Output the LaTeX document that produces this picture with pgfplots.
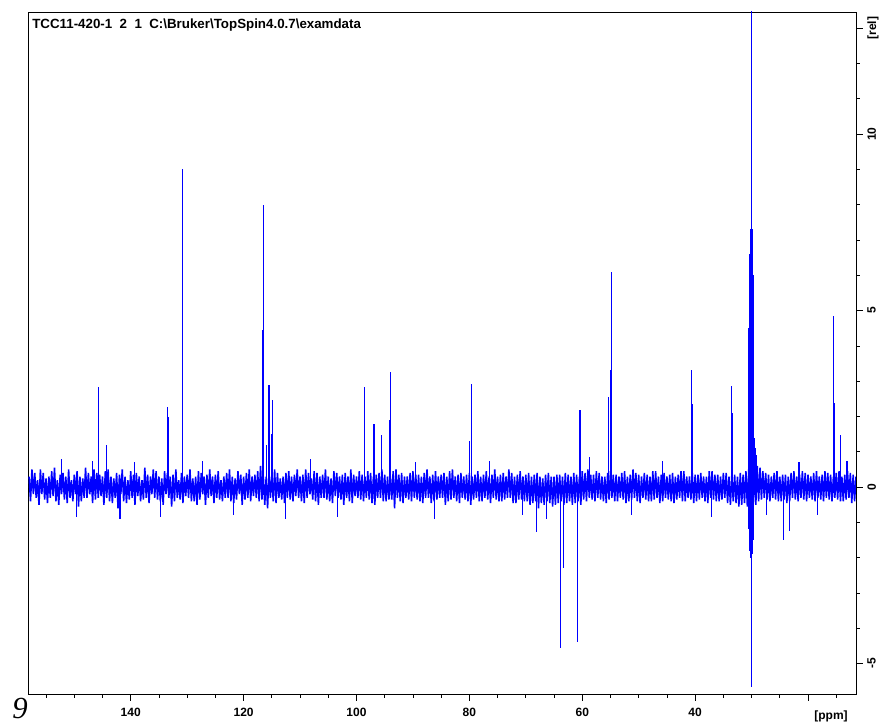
\documentclass[border=0pt]{standalone}
\usepackage{pgfplots}
\pgfplotsset{compat=1.18}
\usepackage{fontspec}
\newfontfamily\lsans{Liberation Sans}
\newfontfamily\lserif{Liberation Serif}

\begin{document}
\begin{tikzpicture}
\useasboundingbox (-21pt,-22.5pt) rectangle (640.5pt,520.5pt);
\begin{axis}[
  at={(0,0)}, anchor=south west,
  scale only axis, width=621pt, height=511.5pt,
  x dir=reverse, xmin=11.5, xmax=158.2,
  ymin=-5.86, ymax=13.46,
  axis line style={line width=.6pt},
  tick align=outside,
  xtick pos=left, ytick pos=right, yticklabel pos=right,
  xtick={20,40,...,140}, xticklabels={,40,60,80,100,120,140},
  minor xtick={15,20,...,155},
  ytick={-5,0,5,10},
  minor ytick={-5,-4,...,13},
  extra y ticks={13}, extra y tick labels={[rel]},
  major tick length=5pt, minor tick length=3pt,
  tick style={black, line width=.6pt},
  ticklabel style={font=\lsans\bfseries\fontsize{9}{9}\selectfont},
  xticklabel style={yshift=-2pt},
  /pgf/number format/assume math mode=true,
  yticklabel style={rotate=90, anchor=north},
]
% baseline noise, read as a dense band of about +-0.4
\addplot[blue, line width=1.15pt, line join=bevel] coordinates {
(158,.3)(157.75,-.4)(157.5,.5)(157.25,-.2)
(157,.4)(156.75,-.3)(156.5,.2)(156.25,-.5)
(156,.5)(155.75,-.2)(155.5,.4)(155.25,-.35)
(155,.25)(154.75,-.45)(154.5,.3)(154.25,-.3)
(154,.45)(153.75,-.25)(153.5,.55)(153.25,-.4)
(153,.2)(152.75,-.5)(152.5,.35)(152.25,-.2)
(152,.4)(151.75,-.35)(151.5,.3)(151.25,-.45)
(151,.5)(150.75,-.3)(150.5,.2)(150.25,-.4)
(150,.35)(149.75,-.2)(149.5,.45)(149.25,-.55)
(149,.3)(148.75,-.4)(148.5,.25)(148.25,-.3)
(148,.55)(147.75,-.3)(147.5,.4)(147.25,-.2)
(147,.3)(146.75,-.45)(146.5,.5)(146.25,-.35)
(146,.4)(145.75,-.3)(145.5,.35)(145.25,-.25)
(145,.3)(144.75,-.5)(144.5,.45)(144.25,-.3)
(144,.5)(143.75,-.4)(143.5,.3)(143.25,-.45)
(143,.25)(142.75,-.3)(142.5,.4)(142.25,-.6)
(142,.35)(141.75,-.2)(141.5,.5)(141.25,-.4)
(141,.3)(140.75,-.45)(140.5,.2)(140.25,-.35)
(140,.45)(139.75,-.3)(139.5,.35)(139.25,-.5)
(139,.4)(138.75,-.25)(138.5,.3)(138.25,-.4)
(138,.2)(137.75,-.35)(137.5,.55)(137.25,-.3)
(137,.35)(136.75,-.45)(136.5,.3)(136.25,-.2)
(136,.5)(135.75,-.3)(135.5,.45)(135.25,-.35)
(135,.3)(134.75,-.4)(134.5,.25)(134.25,-.5)
(134,.45)(133.75,-.2)(133.5,.4)(133.25,-.3)
(133,.3)(132.75,-.55)(132.5,.35)(132.25,-.4)
(132,.5)(131.75,-.3)(131.5,.2)(131.25,-.35)
(131,.4)(130.75,-.45)(130.5,.3)(130.25,-.25)
(130,.35)(129.75,-.3)(129.5,.5)(129.25,-.4)
(129,.25)(128.75,-.4)(128.5,.3)(128.25,-.5)
(128,.45)(127.75,-.35)(127.5,.4)(127.25,-.2)
(127,.3)(126.75,-.5)(126.5,.35)(126.25,-.3)
(126,.5)(125.75,-.25)(125.5,.3)(125.25,-.45)
(125,.35)(124.75,-.3)(124.5,.45)(124.25,-.35)
(124,.2)(123.75,-.4)(123.5,.3)(123.25,-.3)
(123,.4)(122.75,-.3)(122.5,.5)(122.25,-.4)
(122,.3)(121.75,-.45)(121.5,.25)(121.25,-.35)
(121,.45)(120.75,-.2)(120.5,.35)(120.25,-.5)
(120,.3)(119.75,-.35)(119.5,.4)(119.25,-.3)
(119,.5)(118.75,-.4)(118.5,.3)(118.25,-.25)
(118,.35)(117.75,-.3)(117.5,.45)(117.25,-.4)
(117,.6)(116.75,-.35)(116.5,.3)(116.25,-.5)
(116,.3)(115.75,-.6)(115.5,.4)(115.25,-.3)
(115,.35)(114.75,-.4)(114.5,.5)(114.25,-.45)
(114,.4)(113.75,-.3)(113.5,.25)(113.25,-.35)
(113,.3)(112.75,-.45)(112.5,.4)(112.25,-.3)
(112,.45)(111.75,-.35)(111.5,.3)(111.25,-.4)
(111,.35)(110.75,-.25)(110.5,.5)(110.25,-.3)
(110,.3)(109.75,-.4)(109.5,.35)(109.25,-.45)
(109,.5)(108.75,-.3)(108.5,.4)(108.25,-.2)
(108,.25)(107.75,-.35)(107.5,.45)(107.25,-.4)
(107,.4)(106.75,-.5)(106.5,.3)(106.25,-.3)
(106,.35)(105.75,-.3)(105.5,.5)(105.25,-.35)
(105,.3)(104.75,-.4)(104.5,.25)(104.25,-.45)
(104,.45)(103.75,-.25)(103.5,.4)(103.25,-.3)
(103,.3)(102.75,-.35)(102.5,.35)(102.25,-.5)
(102,.4)(101.75,-.3)(101.5,.3)(101.25,-.4)
(101,.5)(100.75,-.45)(100.5,.35)(100.25,-.25)
(100,.3)(99.75,-.3)(99.5,.45)(99.25,-.35)
(99,.35)(98.75,-.4)(98.5,.3)(98.25,-.3)
(98,.45)(97.75,-.35)(97.5,.4)(97.25,-.45)
(97,.3)(96.75,-.5)(96.5,.35)(96.25,-.3)
(96,.4)(95.75,-.3)(95.5,.5)(95.25,-.4)
(95,.35)(94.75,-.4)(94.5,.3)(94.25,-.35)
(94,.3)(93.75,-.35)(93.5,.45)(93.25,-.6)
(93,.5)(92.75,-.3)(92.5,.35)(92.25,-.4)
(92,.4)(91.75,-.45)(91.5,.3)(91.25,-.3)
(91,.3)(90.75,-.35)(90.5,.4)(90.25,-.4)
(90,.45)(89.75,-.3)(89.5,.35)(89.25,-.35)
(89,.35)(88.75,-.4)(88.5,.3)(88.25,-.45)
(88,.4)(87.75,-.3)(87.5,.5)(87.25,-.3)
(87,.3)(86.75,-.45)(86.5,.35)(86.25,-.4)
(86,.45)(85.75,-.35)(85.5,.3)(85.25,-.3)
(85,.35)(84.75,-.3)(84.5,.4)(84.25,-.5)
(84,.3)(83.75,-.4)(83.5,.45)(83.25,-.35)
(83,.5)(82.75,-.3)(82.5,.3)(82.25,-.4)
(82,.35)(81.75,-.45)(81.5,.4)(81.25,-.3)
(81,.3)(80.75,-.35)(80.5,.35)(80.25,-.4)
(80,.4)(79.75,-.5)(79.5,.3)(79.25,-.35)
(79,.35)(78.75,-.3)(78.5,.45)(78.25,-.4)
(78,.3)(77.75,-.4)(77.5,.35)(77.25,-.3)
(77,.45)(76.75,-.35)(76.5,.3)(76.25,-.45)
(76,.35)(75.75,-.3)(75.5,.5)(75.25,-.35)
(75,.3)(74.75,-.4)(74.5,.35)(74.25,-.4)
(74,.4)(73.75,-.35)(73.5,.3)(73.25,-.3)
(73,.5)(72.75,-.3)(72.5,.4)(72.25,-.45)
(72,.3)(71.75,-.45)(71.5,.35)(71.25,-.35)
(71,.45)(70.75,-.35)(70.5,.3)(70.25,-.4)
(70,.35)(69.75,-.4)(69.5,.4)(69.25,-.5)
(69,.3)(68.75,-.45)(68.5,.35)(68.25,-.4)
(68,.4)(67.75,-.6)(67.5,.3)(67.25,-.45)
(67,.25)(66.75,-.5)(66.5,.35)(66.25,-.4)
(66,.4)(65.75,-.45)(65.5,.3)(65.25,-.55)
(65,.3)(64.75,-.5)(64.5,.35)(64.25,-.45)
(64,.35)(63.75,-.4)(63.5,.3)(63.25,-.5)
(63,.4)(62.75,-.45)(62.5,.35)(62.25,-.4)
(62,.3)(61.75,-.5)(61.5,.4)(61.25,-.45)
(61,.35)(60.75,-.4)(60.5,.3)(60.25,-.5)
(60,.45)(59.75,-.35)(59.5,.4)(59.25,-.4)
(59,.5)(58.75,-.3)(58.5,.35)(58.25,-.35)
(58,.35)(57.75,-.4)(57.5,.45)(57.25,-.3)
(57,.4)(56.75,-.35)(56.5,.3)(56.25,-.4)
(56,.3)(55.75,-.45)(55.5,.4)(55.25,-.35)
(55,.45)(54.75,-.3)(54.5,.35)(54.25,-.4)
(54,.35)(53.75,-.4)(53.5,.3)(53.25,-.3)
(53,.4)(52.75,-.35)(52.5,.45)(52.25,-.45)
(52,.3)(51.75,-.4)(51.5,.35)(51.25,-.35)
(51,.5)(50.75,-.3)(50.5,.4)(50.25,-.4)
(50,.35)(49.75,-.45)(49.5,.3)(49.25,-.3)
(49,.4)(48.75,-.35)(48.5,.35)(48.25,-.4)
(48,.3)(47.75,-.4)(47.5,.45)(47.25,-.35)
(47,.45)(46.75,-.3)(46.5,.3)(46.25,-.45)
(46,.35)(45.75,-.4)(45.5,.4)(45.25,-.3)
(45,.3)(44.75,-.35)(44.5,.35)(44.25,-.4)
(44,.4)(43.75,-.45)(43.5,.3)(43.25,-.35)
(43,.35)(42.75,-.3)(42.5,.45)(42.25,-.4)
(42,.45)(41.75,-.4)(41.5,.3)(41.25,-.3)
(41,.3)(40.75,-.35)(40.5,.4)(40.25,-.45)
(40,.35)(39.75,-.4)(39.5,.35)(39.25,-.35)
(39,.4)(38.75,-.3)(38.5,.3)(38.25,-.4)
(38,.3)(37.75,-.45)(37.5,.45)(37.25,-.3)
(37,.45)(36.75,-.35)(36.5,.35)(36.25,-.4)
(36,.35)(35.75,-.4)(35.5,.3)(35.25,-.35)
(35,.4)(34.75,-.3)(34.5,.4)(34.25,-.45)
(34,.3)(33.75,-.5)(33.5,.35)(33.25,-.4)
(33,.35)(32.75,-.45)(32.5,.3)(32.25,-.55)
(32,.4)(31.75,-.5)(31.5,.35)(31.25,-.45)
(31,.45)(30.75,-.55)(30.5,.5)(30.25,-.6)
(30,.5)(29.75,-.6)(29.5,.5)(29.25,-.5)
(29,.6)(28.75,-.4)(28.5,.55)(28.25,-.35)
(28,.45)(27.75,-.3)(27.5,.4)(27.25,-.35)
(27,.35)(26.75,-.4)(26.5,.3)(26.25,-.3)
(26,.4)(25.75,-.35)(25.5,.45)(25.25,-.4)
(25,.3)(24.75,-.4)(24.5,.35)(24.25,-.35)
(24,.35)(23.75,-.45)(23.5,.3)(23.25,-.4)
(23,.4)(22.75,-.3)(22.5,.45)(22.25,-.35)
(22,.3)(21.75,-.4)(21.5,.35)(21.25,-.3)
(21,.45)(20.75,-.35)(20.5,.4)(20.25,-.4)
(20,.35)(19.75,-.3)(19.5,.3)(19.25,-.35)
(19,.4)(18.75,-.4)(18.5,.45)(18.25,-.3)
(18,.3)(17.75,-.35)(17.5,.35)(17.25,-.4)
(17,.45)(16.75,-.3)(16.5,.4)(16.25,-.35)
(16,.35)(15.75,-.4)(15.5,.3)(15.25,-.3)
(15,.4)(14.75,-.35)(14.5,.45)(14.25,-.4)
(14,.3)(13.75,-.4)(13.5,.35)(13.25,-.35)
(13,.45)(12.75,-.3)(12.5,.4)(12.25,-.45)
(12,.35)(11.75,-.4)(11.5,.3)
};
% peaks (ppm, height)
\addplot[blue, line width=.8pt, ycomb] coordinates {
(145.7,2.84)(144.3,1.19)(133.45,2.28)(133.3,2.0)(130.85,9.0)(130.75,4.73)
(116.5,8.0)(116.6,4.45)(116.0,1.2)(115.5,2.89)(115.0,1.5)(114.8,2.48)
(98.6,2.84)(96.9,1.8)(95.5,1.49)(94.0,3.27)(94.1,1.9)
(79.7,2.92)(79.6,1.6)(79.9,1.3)
(68.1,-1.27)(63.9,-4.57)(63.8,-4.3)(63.3,-2.3)(60.9,-4.38)(60.4,2.18)(60.5,1.45)
(54.9,6.09)(55.0,3.31)(55.3,2.56)
(40.6,3.31)(40.5,2.35)(33.5,2.86)(33.4,2.1)
(24.4,-1.5)(23.2,-1.25)
(15.5,4.84)(15.4,2.37)(14.2,1.49)(15.3,1.2)
(152.3,.8)(149.6,-.85)(146.8,.75)(141.9,-.9)(139.4,.7)(134.7,-.85)
(127.3,.75)(121.8,-.8)(112.6,-.9)(108.2,.8)(103.4,-.85)(89.5,.7)
(86.2,-.9)(76.4,.75)(70.6,-.8)(66.3,-.9)(58.7,.85)(51.2,-.8)
(45.8,.75)(37.1,-.85)(27.3,-.8)(21.6,.7)(18.4,-.8)(13.1,.75)
};
% solvent multiplet near 30 ppm
\addplot[blue, line width=.8pt, ycomb] coordinates {
(30.55,4.5)(30.5,-1.2)(30.45,6.0)(30.4,-1.5)(30.35,6.6)(30.3,-1.8)
(30.25,7.3)(30.2,-1.6)(30.15,7.0)(30.1,-2.0)(30.05,10.2)(29.98,14.5)
(29.97,-5.65)(29.9,7.3)(29.88,-1.9)(29.8,6.8)(29.78,-1.7)(29.7,6.0)
(29.68,-1.5)(29.6,4.0)(29.58,-1.0)(29.5,1.4)(29.4,1.3)(29.3,1.1)(29.2,0.9)
};
\end{axis}
\node[anchor=base west, inner sep=0pt, font=\lsans\bfseries\fontsize{10}{10}\selectfont]
  at (3pt,499pt) {TCC11-420-1\ \ 2\ \ 1\ \ C:\textbackslash Bruker\textbackslash TopSpin4.0.7\textbackslash examdata};
\node[anchor=base east, inner sep=0pt, font=\lsans\bfseries\fontsize{9}{9}\selectfont]
  at (615pt,-19.5pt) {[ppm]};
\node[anchor=north west, inner sep=0pt, font=\lserif\itshape\fontsize{23}{23}\selectfont]
  at (-12pt,-3pt) {9};
\end{tikzpicture}
\end{document}
